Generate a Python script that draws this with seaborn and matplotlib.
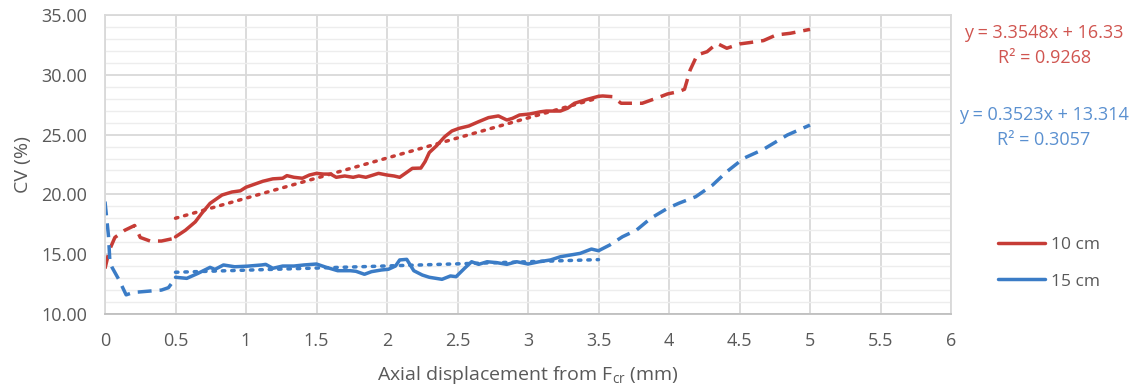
import numpy as np
import pandas as pd
import matplotlib
matplotlib.use("Agg")
import matplotlib.pyplot as plt
import seaborn as sns

# ---------------- data ----------------
# 10 cm series
red_start_x = [0.00, 0.03, 0.07, 0.14, 0.21, 0.25, 0.32, 0.40, 0.48, 0.50]
red_start_y = [13.8, 15.3, 16.4, 17.0, 17.4, 16.4, 16.1, 16.1, 16.3, 16.45]
red_mid_x = [0.50, 0.57, 0.64, 0.685, 0.745, 0.83, 0.90, 0.96, 1.00, 1.06, 1.12, 1.19, 1.26,
             1.29, 1.34, 1.40, 1.45, 1.50, 1.55, 1.60, 1.64, 1.70, 1.76, 1.80, 1.85, 1.94,
             2.00, 2.05, 2.09, 2.13, 2.18, 2.24, 2.27, 2.30, 2.35, 2.41, 2.46, 2.51, 2.58,
             2.65, 2.72, 2.79, 2.85, 2.89, 2.94, 3.01, 3.09, 3.13, 3.23, 3.28, 3.33, 3.42, 3.50]
red_mid_y = [16.45, 17.0, 17.7, 18.4, 19.25, 19.95, 20.2, 20.3, 20.6, 20.85, 21.1, 21.3, 21.35,
             21.57, 21.43, 21.35, 21.62, 21.76, 21.7, 21.7, 21.43, 21.54, 21.43, 21.54, 21.43, 21.76,
             21.62, 21.54, 21.43, 21.76, 22.18, 22.2, 22.74, 23.5, 24.05, 24.83, 25.30, 25.52, 25.72,
             26.08, 26.42, 26.56, 26.22, 26.36, 26.64, 26.72, 26.91, 26.97, 26.97, 27.2, 27.62, 27.95, 28.2]
red_end_x = [3.50, 3.53, 3.60, 3.66, 3.81, 3.91, 3.99, 4.07, 4.11, 4.15, 4.20, 4.27, 4.34,
             4.41, 4.50, 4.57, 4.67, 4.76, 4.86, 5.00]
red_end_y = [28.2, 28.23, 28.17, 27.62, 27.62, 28.04, 28.4, 28.6, 28.79, 30.4, 31.66, 31.93, 32.63,
             32.22, 32.58, 32.69, 32.86, 33.33, 33.47, 33.8]

# 15 cm series
blue_start_x = [0.00, 0.025, 0.035, 0.05, 0.10, 0.15, 0.20, 0.30, 0.40, 0.45, 0.50]
blue_start_y = [19.4, 16.5, 14.3, 13.9, 12.84, 11.6, 11.8, 11.9, 12.0, 12.2, 13.0]
blue_mid_x = [0.50, 0.58, 0.66, 0.745, 0.78, 0.84, 0.92, 1.01, 1.11, 1.14, 1.19, 1.26, 1.34,
              1.41, 1.50, 1.57, 1.65, 1.74, 1.78, 1.84, 1.89, 1.96, 2.01, 2.06, 2.09, 2.14,
              2.19, 2.25, 2.30, 2.39, 2.45, 2.49, 2.55, 2.60, 2.65, 2.71, 2.78, 2.85, 2.92,
              3.00, 3.08, 3.16, 3.23, 3.30, 3.37, 3.45, 3.50]
blue_mid_y = [13.07, 12.98, 13.4, 13.9, 13.73, 14.1, 13.95, 14.0, 14.1, 14.15, 13.82, 14.01, 14.01,
              14.1, 14.18, 13.9, 13.62, 13.62, 13.57, 13.32, 13.54, 13.68, 13.74, 14.01, 14.52, 14.57,
              13.62, 13.26, 13.07, 12.9, 13.18, 13.12, 13.82, 14.37, 14.15, 14.37, 14.29, 14.15, 14.37,
              14.18, 14.37, 14.52, 14.79, 14.93, 15.07, 15.43, 15.29]
blue_end_x = [3.50, 3.58, 3.67, 3.77, 3.87, 3.99, 4.07, 4.19, 4.31, 4.41, 4.53, 4.67, 4.84, 5.00]
blue_end_y = [15.29, 15.77, 16.46, 17.02, 18.0, 18.84, 19.26, 19.81, 20.79, 21.9, 23.02, 23.77, 24.97, 25.8]

# trend lines (from the displayed equations), fitted range
red_slope, red_intercept, red_r2 = 3.3548, 16.33, 0.9268
blue_slope, blue_intercept, blue_r2 = 0.3523, 13.314, 0.3057
trend_range = [0.5, 3.5]

series_labels = ["10 cm", "15 cm"]
x_ticks = [0, 0.5, 1, 1.5, 2, 2.5, 3, 3.5, 4, 4.5, 5, 5.5, 6]
x_tick_labels = ["0", "0.5", "1", "1.5", "2", "2.5", "3", "3.5", "4", "4.5", "5", "5.5", "6"]
y_ticks = [10, 15, 20, 25, 30, 35]
y_tick_labels = ["10.00", "15.00", "20.00", "25.00", "30.00", "35.00"]

# ---------------- style ----------------
sns.set_theme(style="white")
FONT = ["Open Sans", "DejaVu Sans"]
plt.rcParams["font.family"] = FONT
plt.rcParams["mathtext.fontset"] = "custom"
plt.rcParams["mathtext.rm"] = "Open Sans"

RED = "#C63C36"
BLUE = "#3B7CC6"
RED_TXT = "#D05550"
BLUE_TXT = "#5A90D0"
GRAY_TXT = "#595959"
GRID = "#D9D9D9"
MINOR = "#EDEDED"

W, H = 1137, 392
fig = plt.figure(figsize=(W / 100, H / 100), dpi=100)
ax = fig.add_axes([105 / W, 1 - 314 / H, (951 - 105) / W, (314 - 15) / H])

LW = 2.5
dash = (4.0, 2.3)
dot = (0.7, 2.0)

def seg(x, y, color, style, label=None):
    df = pd.DataFrame({"x": x, "y": y})
    sns.lineplot(data=df, x="x", y="y", ax=ax, color=color, lw=LW, sort=False,
                 estimator=None, label=label, legend=False)
    line = ax.lines[-1]
    if style == "dash":
        line.set_dashes(dash)
    elif style == "dot":
        line.set_dashes(dot)
        line.set_dash_capstyle("round")
    return line

seg(red_start_x, red_start_y, RED, "dash")
seg(blue_start_x, blue_start_y, BLUE, "dash")
l_red = seg(red_mid_x, red_mid_y, RED, "solid")
l_blue = seg(blue_mid_x, blue_mid_y, BLUE, "solid")
seg(red_end_x, red_end_y, RED, "dash")
seg(blue_end_x, blue_end_y, BLUE, "dash")

tx = np.array(trend_range)
seg(tx, red_slope * tx + red_intercept, RED, "dot")
seg(tx, blue_slope * tx + blue_intercept, BLUE, "dot")

ax.set_xlim(0, 6)
ax.set_ylim(10, 35)
ax.set_xticks(x_ticks)
ax.set_xticklabels(x_tick_labels)
ax.set_yticks(y_ticks)
ax.set_yticklabels(y_tick_labels)
ax.set_yticks(np.arange(10, 35, 1), minor=True)
ax.grid(True, which="major", color=GRID, lw=1.3)
ax.grid(True, which="minor", axis="y", color=MINOR, lw=1.0)
ax.set_axisbelow(True)
ax.tick_params(axis="both", which="both", length=0, labelsize=13, colors=GRAY_TXT)
ax.tick_params(axis="x", pad=13)
ax.tick_params(axis="y", pad=13)
for s in ax.spines.values():
    s.set_color(GRID)
    s.set_linewidth(1.3)
ax.spines["bottom"].set_color("#BFBFBF")

ax.set_xlabel(r"Axial displacement from F$_{\mathrm{cr}}$ (mm)", fontsize=14, color=GRAY_TXT)
ax.xaxis.set_label_coords(0.5, -(364 - 314) / 299)
ax.set_ylabel("CV (%)", fontsize=14, color=GRAY_TXT)
ax.yaxis.set_label_coords(-(105 - 32) / 846, 0.5)

ANN = 13
fig.text(1044 / W, 1 - 33 / H, f"y = {red_slope}x + {red_intercept}", color=RED_TXT,
         fontsize=ANN, ha="center", va="center")
fig.text(1044 / W, 1 - 58 / H, f"R² = {red_r2}", color=RED_TXT,
         fontsize=ANN, ha="center", va="center")
fig.text(1044 / W, 1 - 115 / H, f"y = {blue_slope}x + {blue_intercept}", color=BLUE_TXT,
         fontsize=ANN, ha="center", va="center")
fig.text(1044 / W, 1 - 140 / H, f"R² = {blue_r2}", color=BLUE_TXT,
         fontsize=ANN, ha="center", va="center")

leg = fig.legend([l_red, l_blue], series_labels, loc="center left",
                 bbox_to_anchor=(998 / W, 1 - 263 / H), frameon=False,
                 borderaxespad=0, borderpad=0,
                 fontsize=12.5, handlelength=2.7, handletextpad=0.35, labelspacing=1.2)
for t in leg.get_texts():
    t.set_color(GRAY_TXT)

fig.savefig("out.png", dpi=100)
